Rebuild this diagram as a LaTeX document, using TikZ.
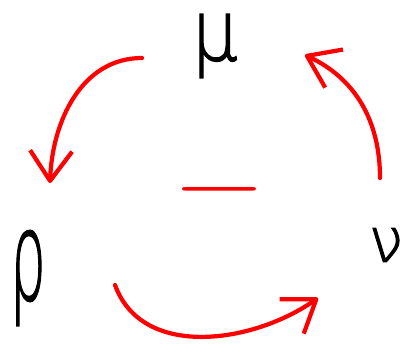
\documentclass[tikz,border=0pt]{standalone}
\usepackage{amsmath,amssymb}
\usepackage{graphicx}
\usepackage{fontspec}
\newfontfamily\handfont[FakeBold=1.6]{DejaVu Sans ExtraLight}
\usepackage{tikz}
\usetikzlibrary{arrows.meta,calc}
\newcommand{\symb}[3]{\scalebox{#1}[#2]{$#3$}}

\begin{document}
\begin{tikzpicture}
	[letter/.style={inner sep=0pt,font=\handfont\fontsize{60}{60}\selectfont},
	 flow/.style={-{Straight Barb[length=7.5mm,width=10.5mm,line join=round]},red,line width=3pt,line cap=round,line join=round}]
	\useasboundingbox (0,0) rectangle (10.1,9);
	% the three letters
	\node[letter] (mu) at (5.375,7.85) {\scalebox{0.85}[1]{μ}};
	\node[letter,font=\handfont\fontsize{88}{88}\selectfont] (rho) at (0.7,2.05) {\scalebox{0.45}[1]{ρ}};
	\node[letter,font=\handfont\fontsize{44}{44}\selectfont] (nu) at (9.65,2.875) {ν};
	% sign in the middle
	\node[inner sep=0pt,red] (sign) at (5.5,4.275) {\symb{8.6}{6.6}{-}};
	%
	% ends of the arrows
	%
	\coordinate (A) at ($(mu)+(-1.825,-0.3)$);
	\coordinate (A') at ($(rho)+(0.55,2.375)$);
	\coordinate (B) at ($(nu)+(-0.15,1.675)$);
	\coordinate (B') at ($(mu)+(2.25,-0.225)$);
	\coordinate (C) at ($(rho)+(2.175,-0.175)$);
	\coordinate (C') at ($(nu)+(-1.7,-1.325)$);

	% arrows
	\draw[flow] (A) to[out=180,in=88] (A');
	\draw[flow] (B) to[out=90,in=-25] (B');
	\draw[flow] (C) to[out=-70,in=215] (C');

\end{tikzpicture}
\end{document}
